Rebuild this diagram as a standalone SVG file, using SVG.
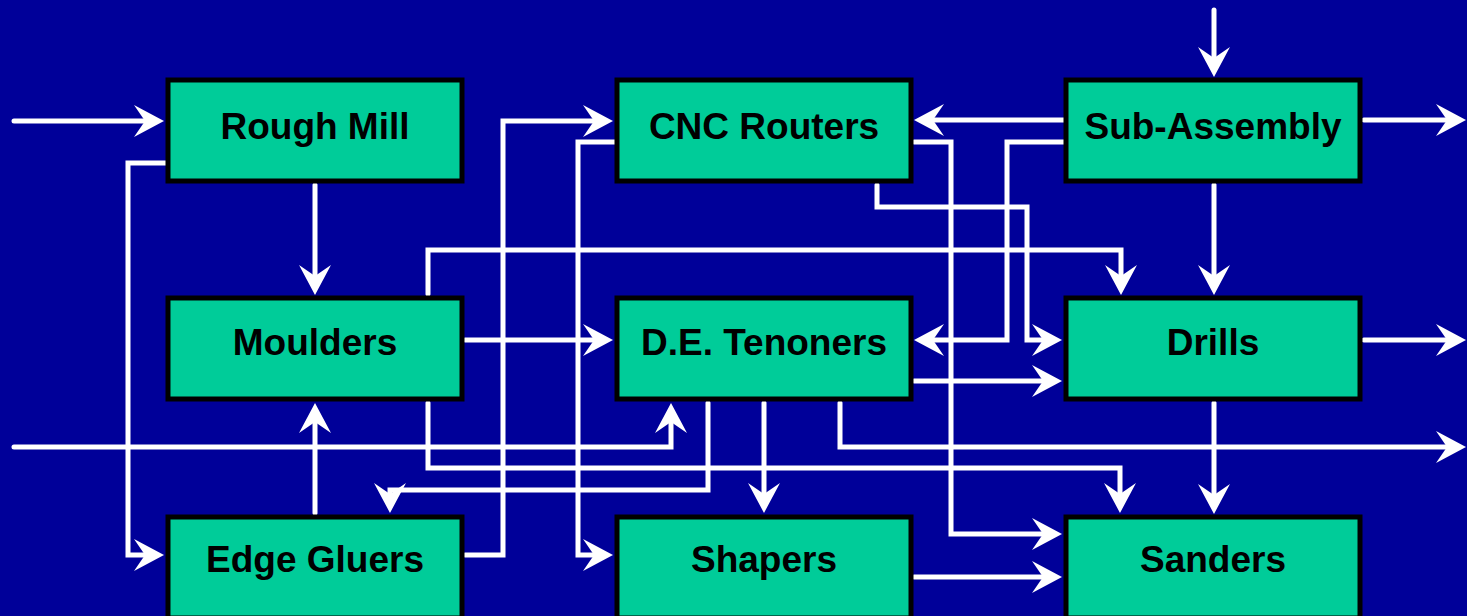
<svg xmlns="http://www.w3.org/2000/svg" width="1467" height="616" viewBox="0 0 1467 616">
<style>
.box{fill:#00CC99;stroke:#000000;stroke-width:5}
.lbl{font-family:"Liberation Sans",Arial,sans-serif;font-weight:bold;font-size:37px;fill:#000000;text-anchor:middle}
.c{fill:none;stroke:#FFFFFF;stroke-width:5;stroke-linecap:round;stroke-linejoin:miter;marker-end:url(#ah)}
</style>
<defs>
<marker id="ah" markerUnits="userSpaceOnUse" viewBox="-13 -18 36 36" refX="0" refY="0" markerWidth="36" markerHeight="36" orient="auto">
<path d="M19,0 L-11,-16 L0,0 L-11,16 Z" fill="#FFFFFF"/>
</marker>
</defs>
<rect x="0" y="0" width="1467" height="616" fill="#000099"/>
<g id="connectors">
<path class="c" d="M14,121 L145,121"/>
<path class="c" d="M315,185 L315,276"/>
<path class="c" d="M166,163 L128,163 L128,555 L145,555"/>
<path class="c" d="M315,513 L315,422"/>
<path class="c" d="M465,555 L503,555 L503,121 L594,121"/>
<path class="c" d="M615,142 L578,142 L578,555 L594,555"/>
<path class="c" d="M465,340 L594,340"/>
<path class="c" d="M428,294 L428,250 L1121,250 L1121,276"/>
<path class="c" d="M428,403 L428,468 L1120,468 L1120,494"/>
<path class="c" d="M1064,120 L933,120"/>
<path class="c" d="M1064,142 L1007,142 L1007,340 L933,340"/>
<path class="c" d="M914,142 L951,142 L951,534 L1043,534"/>
<path class="c" d="M877,185 L877,207 L1027,207 L1027,340 L1043,340"/>
<path class="c" d="M1214,10 L1214,58"/>
<path class="c" d="M1364,120 L1447,120"/>
<path class="c" d="M1214,185 L1214,276"/>
<path class="c" d="M914,381 L1043,381"/>
<path class="c" d="M1364,340 L1447,340"/>
<path class="c" d="M1214,403 L1214,495"/>
<path class="c" d="M14,447 L671,447 L671,422"/>
<path class="c" d="M708,403 L708,490 L390,490 L390,494"/>
<path class="c" d="M764,403 L764,494"/>
<path class="c" d="M840,403 L840,447 L1447,447"/>
<path class="c" d="M914,577 L1043,577"/>
</g>
<g id="rough-mill"><rect class="box" x="168" y="80" width="294" height="101"/><text class="lbl" x="315" y="139">Rough Mill</text></g>
<g id="cnc-routers"><rect class="box" x="617" y="80" width="294" height="101"/><text class="lbl" x="764" y="139">CNC Routers</text></g>
<g id="sub-assembly"><rect class="box" x="1066" y="80" width="294" height="101"/><text class="lbl" x="1213" y="139">Sub-Assembly</text></g>
<g id="moulders"><rect class="box" x="168" y="298" width="294" height="101"/><text class="lbl" x="315" y="355">Moulders</text></g>
<g id="de-tenoners"><rect class="box" x="617" y="298" width="294" height="101"/><text class="lbl" x="764" y="355">D.E. Tenoners</text></g>
<g id="drills"><rect class="box" x="1066" y="298" width="294" height="101"/><text class="lbl" x="1213" y="355">Drills</text></g>
<g id="edge-gluers"><rect class="box" x="168" y="517" width="294" height="101"/><text class="lbl" x="315" y="572">Edge Gluers</text></g>
<g id="shapers"><rect class="box" x="617" y="517" width="294" height="101"/><text class="lbl" x="764" y="572">Shapers</text></g>
<g id="sanders"><rect class="box" x="1066" y="517" width="294" height="101"/><text class="lbl" x="1213" y="572">Sanders</text></g>
</svg>
